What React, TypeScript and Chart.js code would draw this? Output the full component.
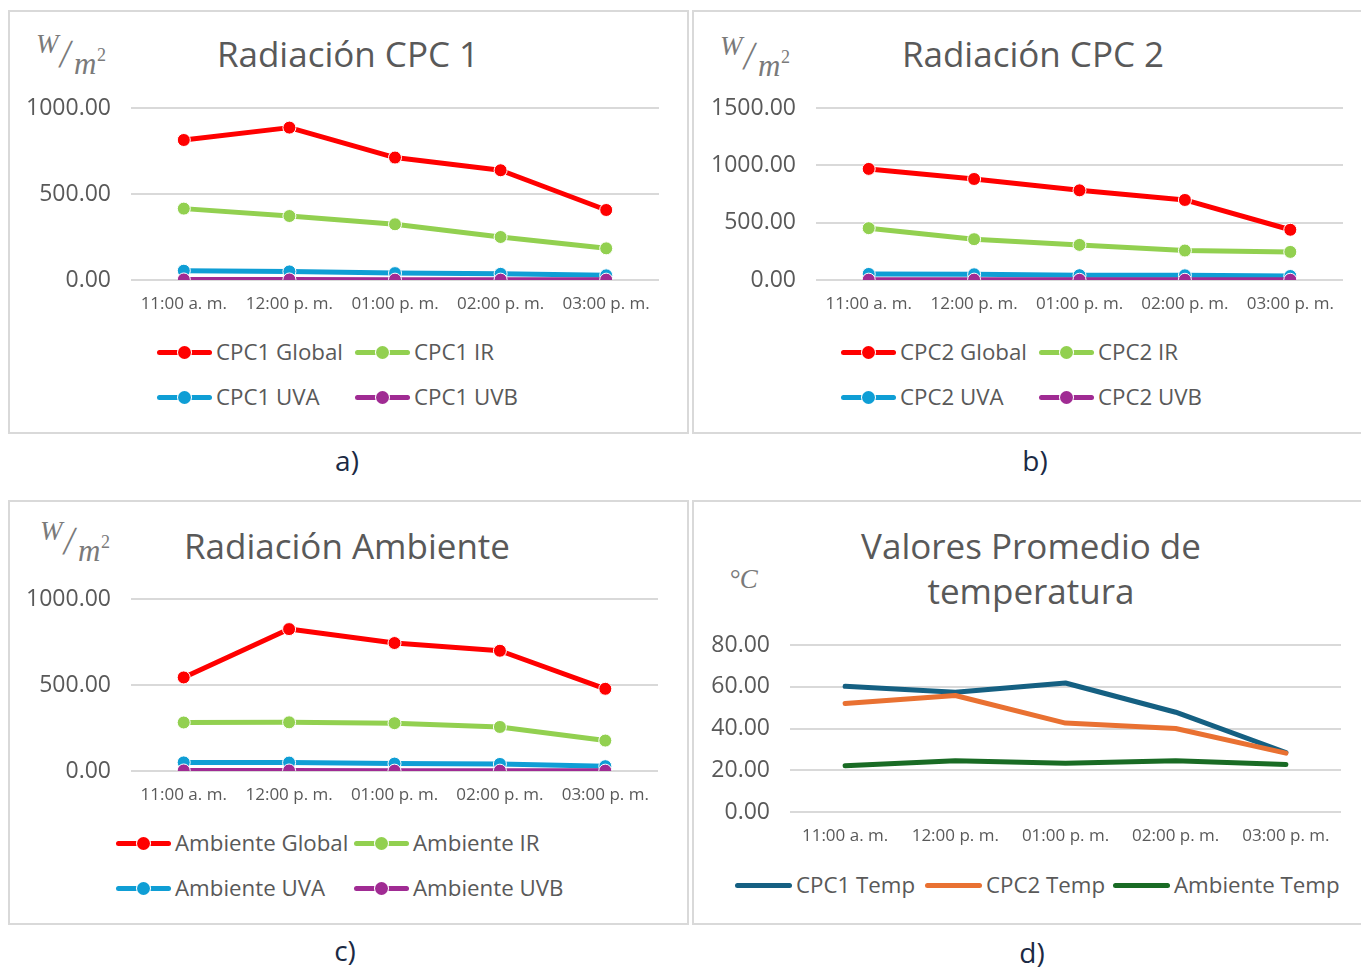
import React, { useEffect, useRef } from "react";
import { Chart, registerables } from "chart.js";

Chart.register(...registerables);

// ---------------- DATA ----------------
const categories = ["11:00 a. m.", "12:00 p. m.", "01:00 p. m.", "02:00 p. m.", "03:00 p. m."];

const cpc1Global = [814, 886, 712, 638, 407];
const cpc1IR = [415, 372, 324, 250, 184];
const cpc1UVA = [54, 50, 40, 36, 27];
const cpc1UVB = [3, 3, 2, 2, 2];

const cpc2Global = [969, 881, 782, 698, 438];
const cpc2IR = [452, 356, 306, 257, 245];
const cpc2UVA = [53, 50, 42, 41, 35];
const cpc2UVB = [3, 3, 2, 2, 2];

const ambGlobal = [544, 825, 744, 699, 478];
const ambIR = [282, 283, 278, 256, 177];
const ambUVA = [50, 49, 43, 41, 28];
const ambUVB = [3, 3, 2, 2, 2];

const cpc1Temp = [60.2, 57.4, 61.8, 47.8, 28.5];
const cpc2Temp = [52.0, 55.8, 42.6, 40.0, 28.2];
const ambTemp = [22.1, 24.6, 23.4, 24.5, 22.7];

const radMaxA = 1000;
const radMaxB = 1500;
const radMaxC = 1000;
const tempMax = 80;
const radStep = 500;
const tempStep = 20;

// ---------------- STYLE ----------------
const TEXT = "#595959";
const GRID = "#d9d9d9";
const FONT = "'Open Sans', 'Liberation Sans', sans-serif";
const RED = "#ff0000";
const GREEN = "#92d050";
const BLUE = "#0f9ed5";
const PURPLE = "#a02b93";
const T1 = "#156082";
const T2 = "#e97132";
const T3 = "#196b24";

type DS = { label: string; data: number[]; color: string };

type PanelCfg = {
  plot: { l: number; r: number; t: number; b: number };
  max: number;
  step: number;
  markers: boolean;
  datasets: DS[];
};

const YW = 110;
const PT = 20;
const PR = 20;
const XH = 42;

function LineChart({ cfg }: { cfg: PanelCfg }) {
  const ref = useRef<HTMLCanvasElement | null>(null);
  const left = cfg.plot.l - YW;
  const top = cfg.plot.t - PT;
  const width = cfg.plot.r + PR - left;
  const height = PT + (cfg.plot.b - cfg.plot.t) + XH;

  useEffect(() => {
    if (!ref.current) return;
    const n = cfg.datasets.length;
    const chart = new Chart(ref.current, {
      type: "line",
      data: {
        labels: categories,
        datasets: cfg.datasets.map((d, i) => ({
          label: d.label,
          data: d.data,
          borderColor: d.color,
          backgroundColor: d.color,
          borderWidth: 5,
          pointRadius: cfg.markers ? 6.5 : 0,
          pointHoverRadius: cfg.markers ? 6.5 : 0,
          pointBackgroundColor: d.color,
          pointBorderColor: "#ffffff",
          pointBorderWidth: 1,
          tension: 0,
          order: n - 1 - i,
          borderCapStyle: "round" as const,
          borderJoinStyle: "round" as const,
        })),
      },
      options: {
        responsive: false,
        animation: false,
        layout: { padding: { top: PT, right: PR, left: 0, bottom: 0 } },
        plugins: {
          legend: { display: false },
          title: { display: false },
          tooltip: { enabled: false },
        },
        scales: {
          x: {
            offset: true,
            grid: { display: false, drawTicks: false },
            border: { display: false },
            ticks: {
              color: TEXT,
              font: { family: FONT, size: 17 },
              padding: 14,
              maxRotation: 0,
              autoSkip: false,
            },
            afterFit: (s: any) => {
              s.height = XH;
              s.paddingLeft = 0;
              s.paddingRight = 0;
              s.paddingTop = 0;
              s.paddingBottom = 0;
            },
          },
          y: {
            min: 0,
            max: cfg.max,
            ticks: {
              stepSize: cfg.step,
              color: TEXT,
              font: { family: FONT, size: 23 },
              padding: 20,
              callback: (v: any) => Number(v).toFixed(2),
            },
            grid: { color: GRID, lineWidth: 2, drawTicks: false },
            border: { display: false },
            afterFit: (s: any) => {
              s.width = YW;
              s.paddingTop = 0;
              s.paddingBottom = 0;
              s.paddingLeft = 0;
              s.paddingRight = 0;
            },
          },
        },
      },
    } as any);
    return () => chart.destroy();
  }, [cfg]);

  return (
    <canvas
      ref={ref}
      width={width}
      height={height}
      style={{ position: "absolute", left, top, width, height }}
    />
  );
}

function Box({ l, t, w, h }: { l: number; t: number; w: number; h: number }) {
  return (
    <div
      style={{
        position: "absolute",
        left: l,
        top: t,
        width: w,
        height: h,
        border: "2px solid #d9d9d9",
        boxSizing: "border-box",
        background: "#fff",
      }}
    />
  );
}

function Title({ lines, cx, cy }: { lines: string[]; cx: number; cy: number }) {
  const lh = 45;
  return (
    <div
      style={{
        position: "absolute",
        left: cx - 300,
        top: cy - lh / 2,
        width: 600,
        textAlign: "center",
        fontFamily: FONT,
        fontSize: 35,
        lineHeight: `${lh}px`,
        color: TEXT,
        whiteSpace: "nowrap",
      }}
    >
      {lines.map((s, i) => (
        <div key={i}>{s}</div>
      ))}
    </div>
  );
}

const SERIF = "'Liberation Serif', 'DejaVu Serif', serif";
const UNITC = "#7a7a7a";

function UnitWm({ x, y }: { x: number; y: number }) {
  const base: React.CSSProperties = {
    position: "absolute",
    fontFamily: SERIF,
    fontStyle: "italic",
    color: UNITC,
    lineHeight: 1,
    whiteSpace: "nowrap",
  };
  return (
    <div style={{ position: "absolute", left: x, top: y }}>
      <span style={{ ...base, left: 0, top: 0, fontSize: 27 }}>W</span>
      <span style={{ ...base, left: 24, top: 3, fontSize: 40, fontStyle: "normal", transform: "skewX(-8deg)" }}>/</span>
      <span style={{ ...base, left: 38, top: 17, fontSize: 31 }}>m</span>
      <span style={{ ...base, left: 61, top: 15, fontSize: 18, fontStyle: "normal" }}>2</span>
    </div>
  );
}

function UnitC({ x, y }: { x: number; y: number }) {
  return (
    <div
      style={{
        position: "absolute",
        left: x,
        top: y,
        fontFamily: SERIF,
        fontStyle: "italic",
        fontSize: 27,
        color: UNITC,
        lineHeight: 1,
        whiteSpace: "nowrap",
      }}
    >
      °C
    </div>
  );
}

function LegendItem({
  x,
  y,
  color,
  label,
  marker,
}: {
  x: number;
  y: number;
  color: string;
  label: string;
  marker: boolean;
}) {
  const sw = marker ? 55 : 57;
  return (
    <div
      style={{
        position: "absolute",
        left: x,
        top: y - 16,
        height: 32,
        display: "flex",
        alignItems: "center",
        whiteSpace: "nowrap",
      }}
    >
      <div style={{ position: "relative", width: sw, height: 32 }}>
        <div
          style={{
            position: "absolute",
            left: 0,
            top: 13.5,
            width: sw,
            height: 5,
            borderRadius: 2.5,
            background: color,
          }}
        />
        {marker && (
          <div
            style={{
              position: "absolute",
              left: sw / 2 - 6.5,
              top: 16 - 6.5,
              width: 13,
              height: 13,
              borderRadius: "50%",
              background: color,
              boxShadow: "0 0 0 1px #fff",
            }}
          />
        )}
      </div>
      <span
        style={{
          marginLeft: 4,
          fontFamily: FONT,
          fontSize: 22.3,
          color: TEXT,
          lineHeight: "32px",
        }}
      >
        {label}
      </span>
    </div>
  );
}

function Caption({ text, cx, cy }: { text: string; cx: number; cy: number }) {
  return (
    <div
      style={{
        position: "absolute",
        left: cx - 50,
        top: cy - 20,
        width: 100,
        textAlign: "center",
        fontFamily: FONT,
        fontSize: 28,
        lineHeight: "40px",
        color: "#1b2a44",
      }}
    >
      {text}
    </div>
  );
}

const panelA: PanelCfg = {
  plot: { l: 131, r: 659, t: 108, b: 280 },
  max: radMaxA,
  step: radStep,
  markers: true,
  datasets: [
    { label: "CPC1 Global", data: cpc1Global, color: RED },
    { label: "CPC1 IR", data: cpc1IR, color: GREEN },
    { label: "CPC1 UVA", data: cpc1UVA, color: BLUE },
    { label: "CPC1 UVB", data: cpc1UVB, color: PURPLE },
  ],
};

const panelB: PanelCfg = {
  plot: { l: 816, r: 1343, t: 108, b: 280 },
  max: radMaxB,
  step: radStep,
  markers: true,
  datasets: [
    { label: "CPC2 Global", data: cpc2Global, color: RED },
    { label: "CPC2 IR", data: cpc2IR, color: GREEN },
    { label: "CPC2 UVA", data: cpc2UVA, color: BLUE },
    { label: "CPC2 UVB", data: cpc2UVB, color: PURPLE },
  ],
};

const panelC: PanelCfg = {
  plot: { l: 131, r: 658, t: 599, b: 771 },
  max: radMaxC,
  step: radStep,
  markers: true,
  datasets: [
    { label: "Ambiente Global", data: ambGlobal, color: RED },
    { label: "Ambiente IR", data: ambIR, color: GREEN },
    { label: "Ambiente UVA", data: ambUVA, color: BLUE },
    { label: "Ambiente UVB", data: ambUVB, color: PURPLE },
  ],
};

const panelD: PanelCfg = {
  plot: { l: 790, r: 1341, t: 645, b: 812 },
  max: tempMax,
  step: tempStep,
  markers: false,
  datasets: [
    { label: "CPC1 Temp", data: cpc1Temp, color: T1 },
    { label: "CPC2 Temp", data: cpc2Temp, color: T2 },
    { label: "Ambiente Temp", data: ambTemp, color: T3 },
  ],
};

export default function App() {
  return (
    <div
      style={{
        position: "fixed",
        left: 0,
        top: 0,
        width: 1361,
        height: 968,
        overflow: "hidden",
        background: "#fff",
      }}
    >
      <Box l={8} t={10} w={681} h={424} />
      <Box l={692} t={10} w={690} h={424} />
      <Box l={8} t={500} w={681} h={425} />
      <Box l={692} t={500} w={690} h={425} />

      <Title lines={["Radiación CPC 1"]} cx={348} cy={53} />
      <Title lines={["Radiación CPC 2"]} cx={1033} cy={53} />
      <Title lines={["Radiación Ambiente"]} cx={347} cy={545} />
      <Title lines={["Valores Promedio de", "temperatura"]} cx={1031} cy={545} />

      <UnitWm x={36} y={31} />
      <UnitWm x={720} y={33} />
      <UnitWm x={40} y={518} />
      <UnitC x={729} y={566} />

      <LineChart cfg={panelA} />
      <LineChart cfg={panelB} />
      <LineChart cfg={panelC} />
      <LineChart cfg={panelD} />

      <LegendItem x={157} y={352} color={RED} label="CPC1 Global" marker />
      <LegendItem x={355} y={352} color={GREEN} label="CPC1 IR" marker />
      <LegendItem x={157} y={397} color={BLUE} label="CPC1 UVA" marker />
      <LegendItem x={355} y={397} color={PURPLE} label="CPC1 UVB" marker />

      <LegendItem x={841} y={352} color={RED} label="CPC2 Global" marker />
      <LegendItem x={1039} y={352} color={GREEN} label="CPC2 IR" marker />
      <LegendItem x={841} y={397} color={BLUE} label="CPC2 UVA" marker />
      <LegendItem x={1039} y={397} color={PURPLE} label="CPC2 UVB" marker />

      <LegendItem x={116} y={843} color={RED} label="Ambiente Global" marker />
      <LegendItem x={354} y={843} color={GREEN} label="Ambiente IR" marker />
      <LegendItem x={116} y={888} color={BLUE} label="Ambiente UVA" marker />
      <LegendItem x={354} y={888} color={PURPLE} label="Ambiente UVB" marker />

      <LegendItem x={735} y={885} color={T1} label="CPC1 Temp" marker={false} />
      <LegendItem x={925} y={885} color={T2} label="CPC2 Temp" marker={false} />
      <LegendItem x={1113} y={885} color={T3} label="Ambiente Temp" marker={false} />

      <Caption text="a)" cx={347} cy={460} />
      <Caption text="b)" cx={1035} cy={460} />
      <Caption text="c)" cx={345} cy={950} />
      <Caption text="d)" cx={1032} cy={952} />
    </div>
  );
}
